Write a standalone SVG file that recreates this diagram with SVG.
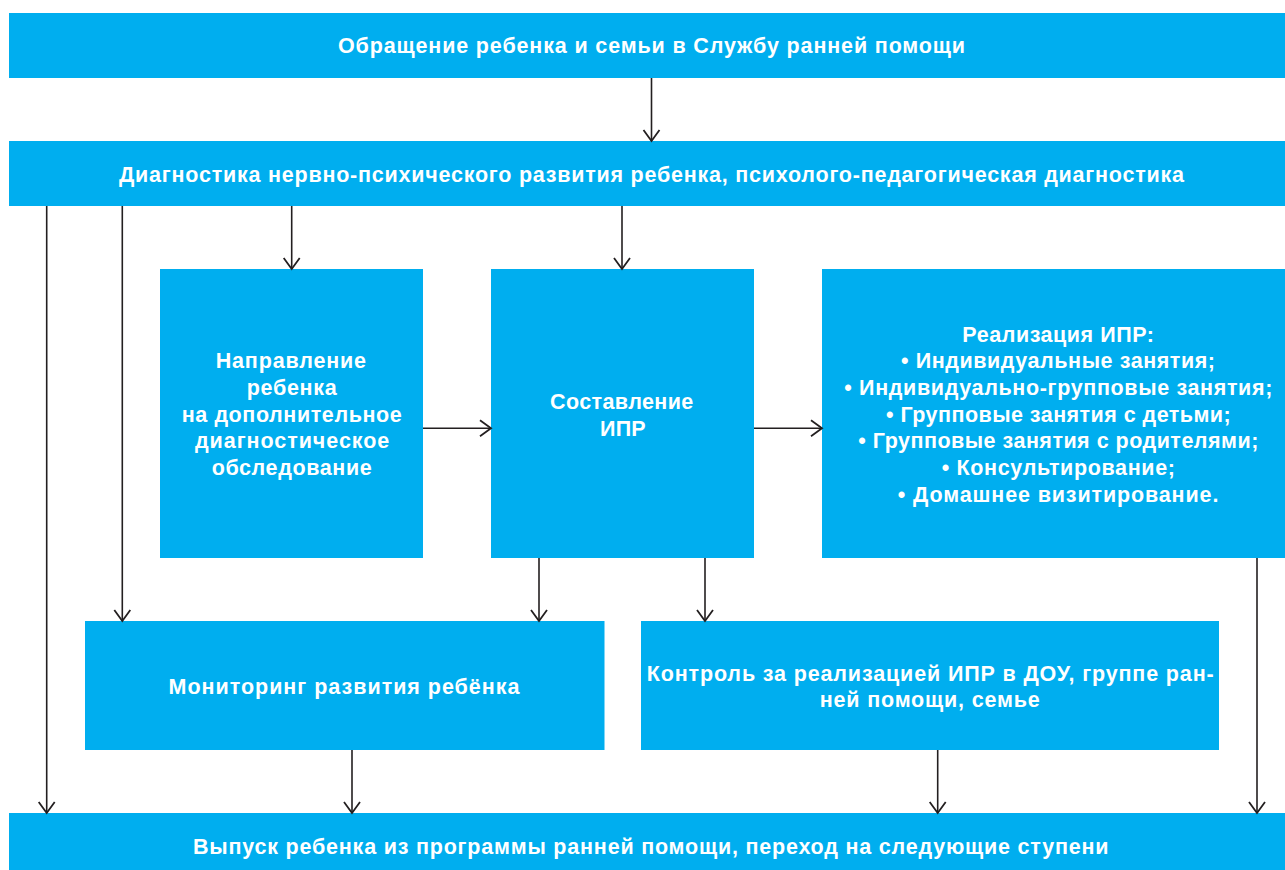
<svg xmlns="http://www.w3.org/2000/svg" width="1285" height="870" viewBox="0 0 1285 870">
<style>
.box{fill:#00aeef;}
.t{font-family:"Liberation Sans",Arial,sans-serif;font-weight:bold;font-size:21.5px;fill:#ffffff;}
.c{fill:none;stroke:#231f20;stroke-width:1.6;}
</style>
<defs>
<marker id="ah" viewBox="-14 -10 16 20" refX="0" refY="0" markerWidth="16" markerHeight="20" markerUnits="userSpaceOnUse" orient="auto">
<path d="M-11,-8 L0,0 L-11,8" fill="none" stroke="#231f20" stroke-width="1.8"/>
</marker>
</defs>
<rect width="1285" height="870" fill="#ffffff"/>
<g id="n-top">
<rect class="box" x="9" y="13" width="1276" height="65"/>
<text class="t" x="338" y="53" textLength="627" lengthAdjust="spacing">Обращение ребенка и семьи в Службу ранней помощи</text>
</g>
<g id="n-diag">
<rect class="box" x="9" y="141" width="1276" height="65"/>
<text class="t" x="119" y="181.5" textLength="1065" lengthAdjust="spacing">Диагностика нервно-психического развития ребенка, психолого-педагогическая диагностика</text>
</g>
<g id="n-naprav">
<rect class="box" x="160" y="269" width="263" height="289"/>
<text class="t" x="215.7" y="368.3" textLength="150.3" lengthAdjust="spacing">Направление</text>
<text class="t" x="246.7" y="395" textLength="90" lengthAdjust="spacing">ребенка</text>
<text class="t" x="181.7" y="421.5" textLength="220" lengthAdjust="spacing">на дополнительное</text>
<text class="t" x="195" y="448" textLength="194.3" lengthAdjust="spacing">диагностическое</text>
<text class="t" x="211.7" y="474.5" textLength="160" lengthAdjust="spacing">обследование</text>
</g>
<g id="n-sostav">
<rect class="box" x="491" y="269" width="263" height="289"/>
<text class="t" x="550" y="408.5" textLength="143.3" lengthAdjust="spacing">Составление</text>
<text class="t" x="600" y="435.5" textLength="45.7" lengthAdjust="spacing">ИПР</text>
</g>
<g id="n-realiz">
<rect class="box" x="822" y="269" width="463" height="289"/>
<text class="t" x="962.3" y="341.7" textLength="191.7" lengthAdjust="spacing">Реализация ИПР:</text>
<text class="t" x="901" y="368.4" textLength="314" lengthAdjust="spacing">• Индивидуальные занятия;</text>
<text class="t" x="844.3" y="395" textLength="428" lengthAdjust="spacing">• Индивидуально-групповые занятия;</text>
<text class="t" x="886" y="421.7" textLength="344.7" lengthAdjust="spacing">• Групповые занятия с детьми;</text>
<text class="t" x="858.3" y="448.4" textLength="400" lengthAdjust="spacing">• Групповые занятия с родителями;</text>
<text class="t" x="941.7" y="475" textLength="233.3" lengthAdjust="spacing">• Консультирование;</text>
<text class="t" x="897.7" y="501.7" textLength="320.7" lengthAdjust="spacing">• Домашнее визитирование.</text>
</g>
<g id="n-monitor">
<rect class="box" x="85" y="621" width="519.5" height="129"/>
<text class="t" x="168.5" y="694" textLength="351" lengthAdjust="spacing">Мониторинг развития ребёнка</text>
</g>
<g id="n-control">
<rect class="box" x="641" y="621" width="578" height="129"/>
<text class="t" x="646.7" y="681" textLength="567" lengthAdjust="spacing">Контроль за реализацией ИПР в ДОУ, группе ран-</text>
<text class="t" x="819.7" y="707" textLength="220" lengthAdjust="spacing">ней помощи, семье</text>
</g>
<g id="n-bottom">
<rect class="box" x="9" y="813" width="1276" height="57"/>
<text class="t" x="193" y="854" textLength="915.5" lengthAdjust="spacing">Выпуск ребенка из программы ранней помощи, переход на следующие ступени</text>
</g>
<g id="connectors">
<line class="c" x1="651.5" y1="78" x2="651.5" y2="141" marker-end="url(#ah)"/>
<line class="c" x1="46.7" y1="206" x2="46.7" y2="813" marker-end="url(#ah)"/>
<line class="c" x1="122.3" y1="206" x2="122.3" y2="621" marker-end="url(#ah)"/>
<line class="c" x1="291.7" y1="206" x2="291.7" y2="269" marker-end="url(#ah)"/>
<line class="c" x1="622" y1="206" x2="622" y2="269" marker-end="url(#ah)"/>
<line class="c" x1="423" y1="428.3" x2="491" y2="428.3" marker-end="url(#ah)"/>
<line class="c" x1="754" y1="428.3" x2="822" y2="428.3" marker-end="url(#ah)"/>
<line class="c" x1="539" y1="558" x2="539" y2="621" marker-end="url(#ah)"/>
<line class="c" x1="705" y1="558" x2="705" y2="621" marker-end="url(#ah)"/>
<line class="c" x1="1257" y1="558" x2="1257" y2="813" marker-end="url(#ah)"/>
<line class="c" x1="352" y1="750" x2="352" y2="813" marker-end="url(#ah)"/>
<line class="c" x1="937.7" y1="750" x2="937.7" y2="813" marker-end="url(#ah)"/>
</g>
</svg>
